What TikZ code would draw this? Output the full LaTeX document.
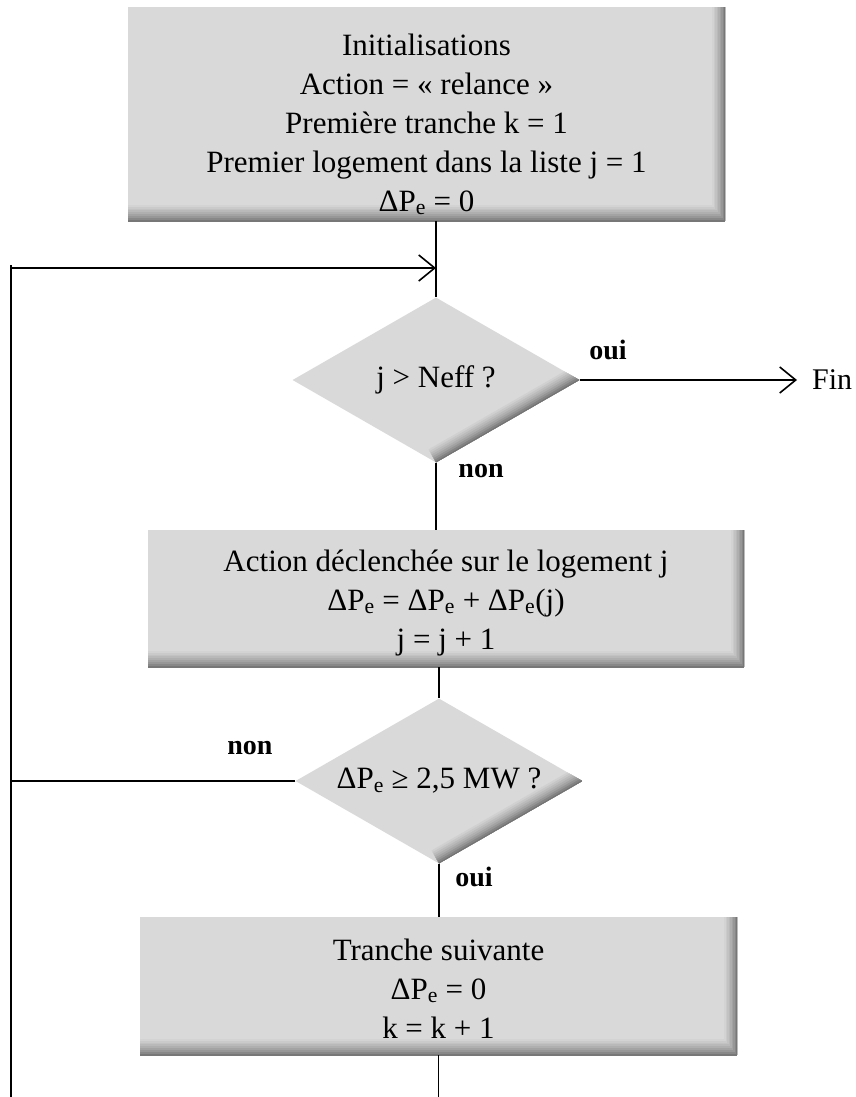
\documentclass[tikz,border=0pt]{standalone}
\usepackage{fontspec}
\setmainfont{Liberation Serif}
\usetikzlibrary{arrows.meta, shapes.geometric, positioning, calc}
\definecolor{boxgray}{RGB}{217, 217, 217}
\definecolor{edgegray}{RGB}{110, 110, 110}
\newcommand{\dPe}{ΔP\textsubscript{e}}

\begin{document}
\begin{tikzpicture}[x=1pt, y=-1pt,
    flow/.style={line width=1.6pt, black},
    barb/.style={-{Straight Barb[length=16pt, width=26pt]}},
    stepbox/.style={rectangle, fill=boxgray, inner sep=0pt, align=center,
      font=\fontsize{31}{39}\selectfont,
      path picture={
        \foreach \lw/\pct in {26/94, 23/86, 20/78, 17/70, 14/61, 11/50, 8/38, 5/24, 2/8}{
          \draw[line width=\lw pt, boxgray!\pct!edgegray]
            (path picture bounding box.north east) -- (path picture bounding box.south east);
          \draw[line width=1.25*\lw pt, boxgray!\pct!edgegray]
            (path picture bounding box.south west) -- (path picture bounding box.south east);
        }
      }},
    testbox/.style={diamond, fill=boxgray, inner sep=0pt, aspect=1.73,
      minimum width=287pt, minimum height=165pt,
      font=\fontsize{31}{39}\selectfont,
      path picture={
        \foreach \lw/\pct in {30/92, 26/82, 22/72, 18/62, 14/50, 10/36, 6/20, 2/5}
          \draw[line width=\lw pt, boxgray!\pct!edgegray]
            (path picture bounding box.east) -- (path picture bounding box.south);
      }},
    lbl/.style={font=\fontsize{28}{30}\selectfont\bfseries, inner sep=0pt}]
  \useasboundingbox (0,0) rectangle (856,1097);

  % Initialisation block
  \node[stepbox, minimum width=597pt, minimum height=214pt] (init) at (426.5,114)
    {\rule{0pt}{42pt}Initialisations\\Action = «~relance~»\\Première tranche k = 1\\Premier logement dans la liste j = 1\\\dPe{} = 0};

  % Test on the list
  \node[testbox] (d1) at (436,380) {j > Neff ?};
  \node[font=\fontsize{30}{32}\selectfont, anchor=west, inner xsep=15pt, inner ysep=0pt] (fin) at (797,380) {Fin};

  % Action on one dwelling
  \node[stepbox, minimum width=596pt, minimum height=137pt] (act) at (446,598.5)
    {\rule{0pt}{30pt}Action déclenchée sur le logement j\\\dPe{} = \dPe{} + \dPe(j)\\j = j + 1};

  % Test on the power
  \node[testbox] (d2) at (439,781) {\dPe{} ≥ 2,5 MW ?};

  % Next slice
  \node[stepbox, minimum width=597pt, minimum height=138pt] (next) at (438.5,986)
    {\rule{0pt}{26pt}Tranche suivante\\\dPe{} = 0\\k = k + 1};

  % Labels
  \node[lbl] (oui1) at (608,350) {oui};
  \node[lbl] (non1) at (481,471) {non};
  \node[lbl] (non2) at (250,748) {non};
  \node[lbl] (oui2) at (474,877) {oui};

  % Connectors
  \coordinate (loopL) at (11,268);
  \coordinate (endL) at (11,1097);
  \draw[flow] (init.south -| d1.north) -- (d1.north);
  \draw[flow, barb] (loopL) -- (loopL -| d1.north);
  \draw[flow] ([yshift=3pt]loopL) -- (endL);
  \draw[flow, barb] (d1.east) -- (fin.west);
  \draw[flow] (d1.south) -- (d1.south |- act.north);
  \draw[flow] (act.south -| d2.north) -- (d2.north);
  \draw[flow] (d2.west) -- (d2.west -| endL);
  \draw[flow] (d2.south) -- (d2.south |- next.north);
  \draw[flow] (next.south) -- (next.south |- endL);
\end{tikzpicture}
\end{document}
